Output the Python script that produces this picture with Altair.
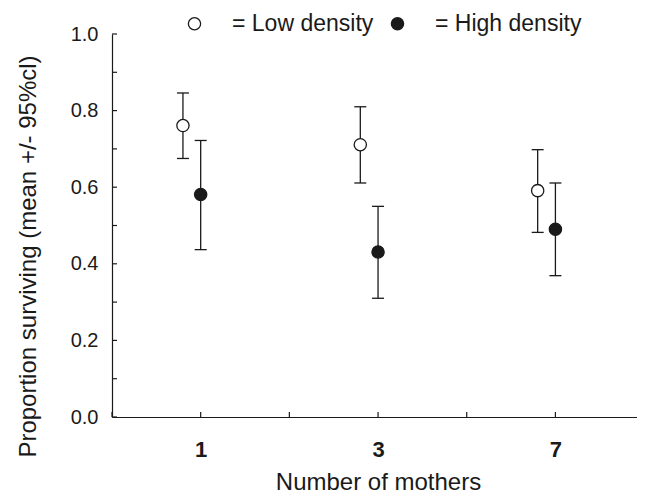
import altair as alt
import pandas as pd

# ---- data ----
categories = ["1", "3", "7"]            # number of mothers
groups = ["Low density", "High density"]
group_offset = [-0.2, 0.0]              # horizontal dodge (axis units)

low_mean = [0.761, 0.711, 0.591]
low_lo = [0.675, 0.611, 0.482]
low_hi = [0.846, 0.810, 0.698]

high_mean = [0.581, 0.431, 0.490]
high_lo = [0.437, 0.310, 0.369]
high_hi = [0.722, 0.550, 0.611]

x_ticks = [0, 1, 2, 3, 4, 5]
y_ticks = [0.0, 0.1, 0.2, 0.3, 0.4, 0.5, 0.6, 0.7, 0.8, 0.9, 1.0]
y_labels = [0.0, 0.2, 0.4, 0.6, 0.8, 1.0]
x_domain = [0, 5.92]

# ---- table ----
rows = []
for g, off, m, lo, hi in zip(groups, group_offset,
                             [low_mean, high_mean],
                             [low_lo, high_lo],
                             [low_hi, high_hi]):
    for i, c in enumerate(categories):
        rows.append(dict(group=g, mothers=c, pos=2 * i + 1 + off,
                         mean=m[i], lo=lo[i], hi=hi[i]))
df = pd.DataFrame(rows)

FONT = "Liberation Sans"
INK = "#1a1a1a"
W, H = 525, 383

label_map = " : ".join(
    f"datum.value == {2 * i + 1} ? '{c}'" for i, c in enumerate(categories)
) + " : ''"

xscale = alt.Scale(domain=x_domain, nice=False, zero=False)
yscale = alt.Scale(domain=[0, 1], nice=False)

xaxis = alt.Axis(values=x_ticks, labelExpr=label_map, ticks=False, grid=False,
                 domainColor=INK, domainWidth=1.2,
                 labelFont=FONT, labelFontSize=22, labelFontWeight="bold",
                 labelColor=INK, labelBaseline="alphabetic", labelPadding=39,
                 labelFlush=False, labelOverlap=False,
                 title="Number of mothers", titleFont=FONT, titleFontSize=24,
                 titleFontWeight="normal", titleColor=INK,
                 titleX=266, titleY=72, titleBaseline="alphabetic",
                 titleAlign="center")

yaxis = alt.Axis(values=y_labels, format=".1f", ticks=False, grid=False,
                 domainColor=INK, domainWidth=1.2,
                 labelFont=FONT, labelFontSize=20, labelColor=INK,
                 labelPadding=14, labelFlush=False,
                 title="Proportion surviving (mean +/- 95%cl)", titleFont=FONT,
                 titleFontSize=24, titleFontWeight="normal", titleColor=INK,
                 titleX=-77, titleY=222, titleBaseline="alphabetic",
                 titleAlign="center", titleAngle=270)

base = alt.Chart(df)

bars = base.mark_rule(color=INK, strokeWidth=1.3).encode(
    x=alt.X("pos:Q", scale=xscale, axis=xaxis),
    y=alt.Y("lo:Q", scale=yscale, axis=yaxis),
    y2="hi:Q",
)
cap_hi = base.mark_tick(orient="horizontal", size=12, thickness=1.3,
                        color=INK, opacity=1).encode(
    x=alt.X("pos:Q", scale=xscale, axis=xaxis),
    y=alt.Y("hi:Q", scale=yscale, axis=yaxis),
)
cap_lo = base.mark_tick(orient="horizontal", size=12, thickness=1.3,
                        color=INK, opacity=1).encode(
    x=alt.X("pos:Q", scale=xscale, axis=xaxis),
    y=alt.Y("lo:Q", scale=yscale, axis=yaxis),
)
points = base.mark_circle(size=150, stroke=INK, strokeWidth=1.3,
                          opacity=1).encode(
    x=alt.X("pos:Q", scale=xscale, axis=xaxis),
    y=alt.Y("mean:Q", scale=yscale, axis=yaxis),
    fill=alt.Fill("group:N",
                  scale=alt.Scale(domain=groups, range=["white", INK]),
                  legend=alt.Legend(orient="none", legendX=71, legendY=-22,
                                    direction="horizontal", title=None,
                                    labelFont=FONT, labelFontSize=23,
                                    labelColor=INK, labelOffset=26,
                                    columnPadding=12, symbolType="circle",
                                    symbolSize=150, symbolStrokeColor=INK,
                                    symbolStrokeWidth=1.3, padding=0,
                                    labelExpr="'= ' + datum.label")),
)

xt = alt.Chart(pd.DataFrame({"t": x_ticks})).mark_rule(
    color=INK, strokeWidth=1.2).encode(
    x=alt.X("t:Q", scale=xscale, axis=xaxis),
    y=alt.value(H), y2=alt.value(H - 5),
)
yt = alt.Chart(pd.DataFrame({"t": y_ticks})).mark_rule(
    color=INK, strokeWidth=1.2).encode(
    y=alt.Y("t:Q", scale=yscale, axis=yaxis),
    x=alt.value(0), x2=alt.value(5),
)

chart = alt.layer(bars, xt, yt, cap_lo, cap_hi, points).properties(
    width=W, height=H,
    padding={"left": 104, "top": 26, "right": 0, "bottom": 77},
    autosize=alt.AutoSizeParams(type="none"),
).configure_view(stroke=None)

chart.save("out.html", embed_options={"renderer": "svg", "actions": False})
